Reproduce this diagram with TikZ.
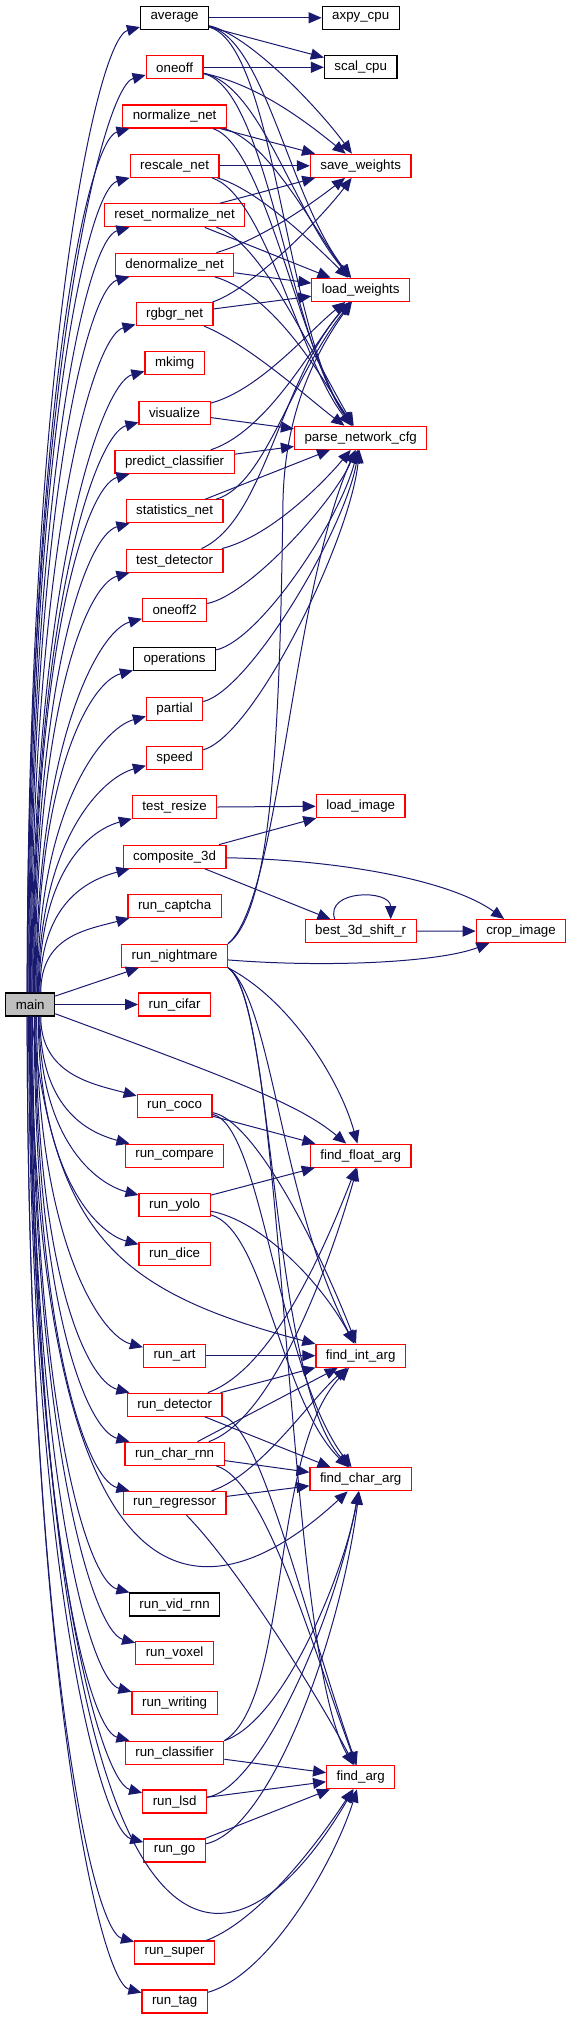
\documentclass[tikz,border=0pt]{standalone}
\usepackage{fontspec}
\setmainfont{Liberation Sans}
\usetikzlibrary{arrows.meta,positioning,calc}
\definecolor{edgeblue}{HTML}{191970}
\definecolor{mainfill}{HTML}{BFBFBF}
\tikzset{
  fn/.style={draw=red,line width=1.2pt,fill=white,minimum height=23pt,inner xsep=10pt,inner ysep=0pt,font=\fontsize{13.3}{16}\selectfont},
  call/.style={edgeblue,line width=1pt,-{Triangle[length=13pt,width=11pt]}},
}
\newcommand\mainup[3]{\draw[call] ([xshift=#3pt]main.north) to[out=90,in=195,out distance=#2pt,in distance=45pt] (#1);}
\newcommand\maindown[3]{\draw[call] ([xshift=#3pt]main.south) to[out=-90,in=165,out distance=#2pt,in distance=45pt] (#1);}
\newcommand\mainstr[3]{\draw[call] (main) -- (#1);}

\begin{document}
\begin{tikzpicture}[x=1pt,y=1pt]
  \useasboundingbox (0,0) rectangle (572,-2020);
  \node[fn,draw=black,fill=mainfill] (main) at (30.2,-1004.5) {main};
  \foreach \nm/\lab/\yy/\bc in {axpy/axpy\_cpu/17.8/black, scal/scal\_cpu/67.3/black,
      savew/save\_weights/165.8/red, loadw/load\_weights/289.8/red, pnc/parse\_network\_cfg/437.8/red,
      loadimg/load\_image/806/red, b3d/best\_3d\_shift\_r/931.3/red, ffa/find\_float\_arg/1155.7/red,
      fia/find\_int\_arg/1355.7/red, fca/find\_char\_arg/1479.3/red, fa/find\_arg/1777.2/red}{
    \node[fn,draw=\bc] (\nm) at (360.7,-\yy) {\lab};
  }
  \node[fn] (crop) at (521,-931) {crop\_image};
  \foreach \nm/\lab/\yy/\bc/\md in {avg/average/17.8/black/up, oneoff/oneoff/67.3/red/up,
      normnet/normalize\_net/116.5/red/up, rescnet/rescale\_net/165.8/red/up,
      resetnet/reset\_normalize\_net/215.3/red/up, denormnet/denormalize\_net/264.7/red/up,
      rgbgr/rgbgr\_net/314/red/up, mkimg/mkimg/363.3/red/up, visualize/visualize/412.7/red/up,
      predcls/predict\_classifier/462/red/up, statnet/statistics\_net/511.3/red/up,
      testdet/test\_detector/560.7/red/up, oneofftwo/oneoff2/610/red/up,
      operations/operations/659.3/black/up, partial/partial/708.7/red/up, speed/speed/758/red/up,
      testresize/test\_resize/807.3/red/up, comp3d/composite\_3d/856.7/red/up,
      captcha/run\_captcha/906/red/up, nightmare/run\_nightmare/955.7/red/str,
      cifar/run\_cifar/1004.5/red/str, coco/run\_coco/1106/red/down,
      compare/run\_compare/1155.7/red/down, yolo/run\_yolo/1204.7/red/down,
      dice/run\_dice/1254/red/down, art/run\_art/1355.7/red/down,
      detector/run\_detector/1404.7/red/down, charrnn/run\_char\_rnn/1453.7/red/down,
      regressor/run\_regressor/1503/red/down, vidrnn/run\_vid\_rnn/1604.5/black/down,
      voxel/run\_voxel/1653.3/red/down, writing/run\_writing/1703.3/red/down,
      classifier/run\_classifier/1752.7/red/down, lsd/run\_lsd/1801.5/red/down,
      go/run\_go/1850.5/red/down, super/run\_super/1952.5/red/down, tag/run\_tag/2001.5/red/down}{
    \node[fn,draw=\bc] (\nm) at (174.6,-\yy) {\lab};
    \pgfmathsetmacro\dd{0.65*(abs(1004.5-\yy)-12)}
    \pgfmathsetmacro\sx{max(-3,12-\dd/40)}
    \csname main\md\endcsname{\nm}{\dd}{\sx}
  }
  % upper block
  \draw[call] (avg) -- (axpy);
  \draw[call] (avg) -- (scal);
  \draw[call] (avg) .. controls (250,-35) and (320,-110) .. (savew);
  \draw[call] (avg) .. controls (265,-40) and (290,-200) .. (loadw);
  \draw[call] (avg) .. controls (275,-45) and (285,-330) .. (pnc);
  \draw[call] (oneoff) -- (scal);
  \draw[call] (oneoff) .. controls (260,-85) and (310,-125) .. (savew);
  \draw[call] (oneoff) .. controls (260,-85) and (293,-210) .. (loadw);
  \draw[call] (oneoff) .. controls (268,-88) and (288,-335) .. (pnc);
  \draw[call] (normnet) -- (savew);
  \draw[call] (normnet) .. controls (270,-140) and (320,-240) .. (loadw);
  \draw[call] (normnet) .. controls (265,-145) and (300,-350) .. (pnc);
  \draw[call] (rescnet) -- (savew);
  \draw[call] (rescnet) .. controls (260,-190) and (320,-250) .. (loadw);
  \draw[call] (rescnet) .. controls (265,-195) and (300,-360) .. (pnc);
  \draw[call] (resetnet) -- (savew);
  \draw[call] (resetnet) -- (loadw);
  \draw[call] (resetnet) .. controls (260,-240) and (310,-350) .. (pnc);
  \draw[call] (denormnet) .. controls (260,-240) and (310,-205) .. (savew);
  \draw[call] (denormnet) -- (loadw);
  \draw[call] (denormnet) .. controls (275,-295) and (320,-375) .. (pnc);
  \draw[call] (rgbgr) .. controls (250,-290) and (320,-220) .. (savew);
  \draw[call] (rgbgr) -- (loadw);
  \draw[call] (rgbgr) .. controls (250,-345) and (310,-400) .. (pnc);
  \draw[call] (visualize) .. controls (260,-390) and (310,-330) .. (loadw);
  \draw[call] (visualize) -- (pnc);
  \draw[call] (predcls) .. controls (270,-430) and (315,-340) .. (loadw);
  \draw[call] (predcls) -- (pnc);
  \draw[call] (statnet) .. controls (265,-485) and (290,-380) .. (loadw);
  \draw[call] (statnet) -- (pnc);
  \draw[call] (testdet) .. controls (265,-520) and (280,-380) .. (loadw);
  \draw[call] (testdet) .. controls (275,-535) and (330,-475) .. (pnc);
  \draw[call] (oneofftwo) .. controls (250,-595) and (335,-500) .. (pnc);
  \draw[call] (operations) .. controls (260,-640) and (340,-520) .. (pnc);
  \draw[call] (partial) .. controls (250,-690) and (345,-530) .. (pnc);
  \draw[call] (speed) .. controls (255,-735) and (350,-540) .. (pnc);
  % images
  \draw[call] (testresize) -- (loadimg);
  \draw[call] (comp3d) -- (loadimg);
  \draw[call] (comp3d) .. controls (340,-860) and (450,-880) .. (crop);
  \draw[call] (comp3d) -- (b3d);
  \draw[call] ([xshift=-26pt]b3d.north) .. controls +(-10,30) and +(0,30) .. ([xshift=30pt]b3d.north);
  \draw[call] (b3d) -- (crop);
  \draw[call] (nightmare) .. controls (330,-968) and (440,-962) .. (crop);
  \draw[call] (nightmare.north east) .. controls (275,-910) and (280,-700) .. (283,-500)
    .. controls (285,-420) and (310,-360) .. (loadw);
  \draw[call] (nightmare.north east) .. controls (280,-900) and (290,-600) .. (pnc);
  % argument helpers
  \draw[call] (nightmare.south east) .. controls (290,-1000) and (340,-1080) .. (ffa);
  \draw[call] (nightmare.south east) .. controls (272,-1000) and (280,-1200) .. (fia);
  \draw[call] (nightmare.south east) .. controls (275,-1000) and (270,-1380) .. (fca);
  \draw[call] (nightmare.south east) .. controls (285,-1000) and (285,-1650) .. (fa);
  \draw[call] (coco) -- (ffa);
  \draw[call] (coco) .. controls (255,-1120) and (320,-1250) .. (fia);
  \draw[call] (coco) .. controls (262,-1125) and (278,-1370) .. (fca);
  \draw[call] (yolo) -- (ffa);
  \draw[call] (yolo) .. controls (260,-1220) and (320,-1280) .. (fia);
  \draw[call] (yolo) .. controls (265,-1230) and (280,-1400) .. (fca);
  \draw[call] (art) -- (fia);
  \draw[call] (detector) .. controls (270,-1370) and (320,-1260) .. (ffa);
  \draw[call] (detector) -- (fia);
  \draw[call] (detector) -- (fca);
  \draw[call] (detector) .. controls (260,-1425) and (300,-1600) .. (fa);
  \draw[call] (charrnn) .. controls (270,-1420) and (325,-1280) .. (ffa);
  \draw[call] (charrnn) -- (fia);
  \draw[call] (charrnn) -- (fca);
  \draw[call] (charrnn) .. controls (265,-1480) and (310,-1640) .. (fa);
  \draw[call] (regressor) .. controls (260,-1475) and (310,-1400) .. (fia);
  \draw[call] (regressor) -- (fca);
  \draw[call] (regressor) .. controls (240,-1570) and (320,-1700) .. (fa);
  \draw[call] (classifier.north east) .. controls (290,-1700) and (270,-1450) .. (fia);
  \draw[call] (classifier.north east) .. controls (285,-1720) and (345,-1570) .. (fca);
  \draw[call] (classifier) -- (fa);
  \draw[call] (lsd) .. controls (260,-1790) and (335,-1620) .. (fca);
  \draw[call] (lsd) -- (fa);
  \draw[call] (go) .. controls (270,-1830) and (340,-1640) .. (fca);
  \draw[call] (go) -- (fa);
  \draw[call] (super) .. controls (260,-1920) and (320,-1840) .. (fa);
  \draw[call] (tag) .. controls (270,-1975) and (335,-1860) .. (fa);
  \draw[call] (main) .. controls (240,-1082) and (300,-1105) .. (ffa);
  \draw[call] (main) .. controls (55,-1230) and (110,-1290) .. (fia);
  \draw[call] (main) .. controls (40,-1680) and (230,-1600) .. (fca);
  \draw[call] (main) .. controls (40,-2040) and (230,-2000) .. (fa);
\end{tikzpicture}
\end{document}
